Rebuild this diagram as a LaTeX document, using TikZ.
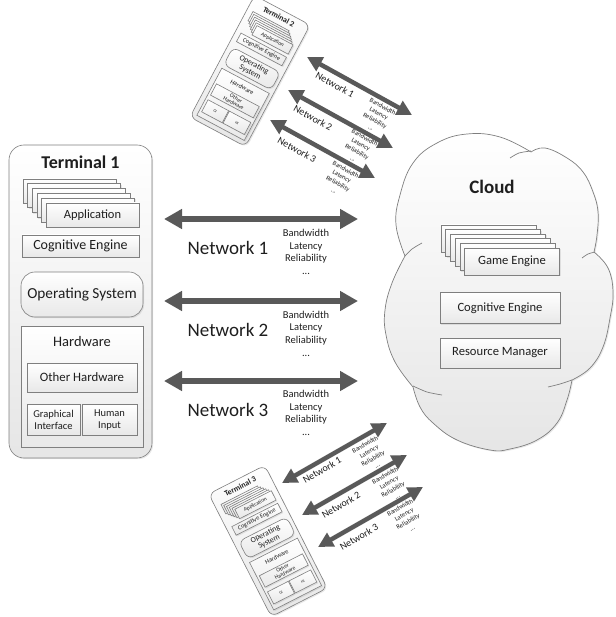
\documentclass[tikz,border=0pt]{standalone}
\usepackage{fontspec}
\setmainfont{Carlito}
\usetikzlibrary{arrows.meta,shadows}
\definecolor{bord}{HTML}{7F7F7F}
\definecolor{arrgray}{HTML}{595959}
\definecolor{txt}{HTML}{1E1E1E}
\newcommand\fsz[2]{\fontsize{#1}{#2}\selectfont}
\newcommand\rcout{15pt}
\newcommand\rcos{14pt}
\tikzset{
 every node/.style={text=txt},
 sh/.style={drop shadow={opacity=0.18, shadow xshift=1.2pt, shadow yshift=-1.2pt}},
 box/.style={draw=bord, line width=0.6pt, top color=white, bottom color=black!9, inner sep=0pt, align=center, sh},
 termbox/.style={box, bottom color=black!10},
 netarrow/.style={draw=arrgray, line width=5.5pt, {Triangle[length=18pt,width=19pt]}-{Triangle[length=18pt,width=19pt]}},
 smallarrow/.style={draw=arrgray, line width=4.5pt, {Triangle[length=15pt,width=15pt]}-{Triangle[length=15pt,width=15pt]}},
 netlabel/.style={font=\fsz{19}{19}},
 netlist/.style={align=center, font=\fsz{10.5}{12.7}},
 snetlabel/.style={font=\fsz{10}{10}},
 snetlist/.style={align=center, font=\fsz{6.5}{8}},
 cloudst/.style={draw=bord, line width=0.7pt, top color=white, bottom color=black!10, sh},
 cloudline/.style={draw=bord, line width=0.7pt},
}
% #1 prefix, #2 title, #3 OS text, #4 OS font, #5 OH text, #6 GI text, #7 HI text, #8 GI/HI font
\newcommand\termunit[8]{%
 \node[termbox, rounded corners=\rcout, minimum width=143pt, minimum height=313pt] (#1) at (0,0) {};
 \node[font=\bfseries\fsz{18}{18}] (#1t) at (0,-139.5) {#2};
 \foreach \i in {0,...,4}{\node[box, minimum width=93pt, minimum height=24pt] (#1c\i) at ({-11+4.6*\i},{-110.5+4.8*\i}) {};}
 \node[box, minimum width=93pt, minimum height=24pt, font=\fsz{12.5}{12.5}] (#1app) at (12,-86.5) {Application};
 \node[box, minimum width=117pt, minimum height=22pt, font=\fsz{14}{14}] (#1ce) at (0,-55.5) {Cognitive Engine};
 \node[box, rounded corners=\rcos, minimum width=122pt, minimum height=45pt, font=#4] (#1os) at (1.5,-7) {#3};
 \node[box, minimum width=122pt, minimum height=121pt] (#1hw) at (1.5,85) {};
 \node[font=\fsz{14.5}{14.5}] (#1hwt) at (1.5,40.5) {Hardware};
 \node[box, minimum width=110pt, minimum height=29pt, font=\fsz{12.8}{12.5}] (#1oh) at (1.5,76) {#5};
 \node[box, minimum width=53pt, minimum height=31pt, font=#8] (#1gi) at (-27,118) {#6};
 \node[box, minimum width=55pt, minimum height=31pt, font=#8] (#1hi) at (29,118) {#7};
}
\begin{document}
\begin{tikzpicture}[x=1pt,y=-1pt]
\useasboundingbox (0,0) rectangle (615,617);

% ---------- Terminal 1
\begin{scope}[shift={(80.5,301.5)}]
 \termunit{t1}{Terminal 1}{Operating System}{\fsz{15.3}{15.3}}{Other Hardware}{Graphical\\Interface}{Human\\Input}{\fsz{10.5}{12}}
\end{scope}

\renewcommand\rcout{6.6pt}
\renewcommand\rcos{6.2pt}
% ---------- Terminal 2
\begin{scope}[shift={(250,71)}, rotate=-28, scale=0.44, transform shape]
 \termunit{t2}{Terminal 2}{Operating\\System}{\fsz{18}{19}}{Other\\Hardware}{GI}{HI}{\fsz{9}{10}}
\end{scope}

% ---------- Terminal 3
\begin{scope}[shift={(268,541)}, rotate=27, scale=0.44, transform shape]
 \termunit{t3}{Terminal 3}{Operating\\System}{\fsz{18}{19}}{Other\\Hardware}{GI}{HI}{\fsz{9}{10}}
\end{scope}

% ---------- Cloud
\draw[cloudst] plot[smooth, tension=0.7] coordinates {(405,256) (396,225) (400,195) (413,163) (437,143) (467,134) (500,137) (531,152)}
 -- plot[smooth, tension=0.7] coordinates {(531,152) (545,148) (567,158) (583,172) (593,192) (598,212) (597,235) (594,252)}
 -- plot[smooth, tension=0.7] coordinates {(594,252) (608,268) (613,292) (610,318) (603,347) (590,368) (572,380)}
 -- plot[smooth, tension=0.7] coordinates {(572,380) (567,400) (557,423) (537,440) (510,449) (490,450) (457,440) (433,423) (420,407) (413,387)}
 -- plot[smooth, tension=0.7] coordinates {(413,387) (395,362) (386,335) (385,310) (392,283) (405,256)} -- cycle;
\draw[cloudline] plot[smooth] coordinates {(510,158) (519,153) (531,151)};
\draw[cloudline] plot[smooth] coordinates {(582,258) (588,254) (595,252)};
\draw[cloudline] plot[smooth] coordinates {(548,387) (560,384) (572,380)};
\draw[cloudline] plot[smooth] coordinates {(442,395) (427,392) (413,386)};
\draw[cloudline] plot[smooth] coordinates {(422,243) (412,249) (405,256)};

\node[font=\bfseries\fsz{19}{19}] (cloudt) at (492,187) {Cloud};
\foreach \i in {0,...,4}{\node[box, minimum width=95pt, minimum height=27pt] (gc\i) at ({488.5+4.7*\i},{238.5+4.6*\i}) {};}
\node[box, minimum width=95pt, minimum height=27pt, font=\fsz{12.6}{12.6}] (ge) at (512,261.5) {Game Engine};
\node[box, minimum width=120pt, minimum height=31pt, font=\fsz{12.6}{12.6}] (cce) at (500,308) {Cognitive Engine};
\node[box, minimum width=120pt, minimum height=30pt, font=\fsz{12.6}{12.6}] (rm) at (500,353) {Resource Manager};

% ---------- Middle networks
\coordinate (m1l) at (164,219); \coordinate (m1r) at (358,219);
\coordinate (m2l) at (164,301); \coordinate (m2r) at (358,301);
\coordinate (m3l) at (164,381); \coordinate (m3r) at (358,381);
\draw[netarrow] (m1l) -- (m1r);
\draw[netarrow] (m2l) -- (m2r);
\draw[netarrow] (m3l) -- (m3r);
\node[netlabel] (mn1) at (228,248) {Network 1};
\node[netlabel] (mn2) at (228,330) {Network 2};
\node[netlabel] (mn3) at (228,410) {Network 3};
\node[netlist] (ml1) at (306,252) {Bandwidth\\Latency\\Reliability\\...};
\node[netlist] (ml2) at (306,333.5) {Bandwidth\\Latency\\Reliability\\...};
\node[netlist] (ml3) at (306,413) {Bandwidth\\Latency\\Reliability\\...};

% ---------- Terminal 2 networks
\coordinate (a1l) at (307,57);  \coordinate (a1r) at (412,115);
\coordinate (a2l) at (288,90);  \coordinate (a2r) at (393,148);
\coordinate (a3l) at (270,120); \coordinate (a3r) at (375,178);
\node[snetlist, rotate=-29] (al1) at (377,117) {Bandwidth\\Latency\\Reliability\\...};
\node[snetlist, rotate=-29] (al2) at (359,148) {Bandwidth\\Latency\\Reliability\\...};
\node[snetlist, rotate=-29] (al3) at (340,180) {Bandwidth\\Latency\\Reliability\\...};
\draw[smallarrow] (a1l) -- (a1r);
\draw[smallarrow] (a2l) -- (a2r);
\draw[smallarrow] (a3l) -- (a3r);
\node[snetlabel, rotate=-29] (an1) at (335,85) {Network 1};
\node[snetlabel, rotate=-29] (an2) at (313,118) {Network 2};
\node[snetlabel, rotate=-29] (an3) at (297,150) {Network 3};

% ---------- Terminal 3 networks
\coordinate (b1l) at (282,483); \coordinate (b1r) at (387,423);
\coordinate (b2l) at (302,515); \coordinate (b2r) at (407,455);
\coordinate (b3l) at (318,547); \coordinate (b3r) at (423,487);
\node[snetlist, rotate=30] (bl1) at (371,455) {Bandwidth\\Latency\\Reliability\\...};
\node[snetlist, rotate=30] (bl2) at (391,486) {Bandwidth\\Latency\\Reliability\\...};
\node[snetlist, rotate=30] (bl3) at (406,518) {Bandwidth\\Latency\\Reliability\\...};
\draw[smallarrow] (b1l) -- (b1r);
\draw[smallarrow] (b2l) -- (b2r);
\draw[smallarrow] (b3l) -- (b3r);
\node[snetlabel, rotate=30] (bn1) at (322,470) {Network 1};
\node[snetlabel, rotate=30] (bn2) at (341,505) {Network 2};
\node[snetlabel, rotate=30] (bn3) at (359,537) {Network 3};
\end{tikzpicture}
\end{document}
